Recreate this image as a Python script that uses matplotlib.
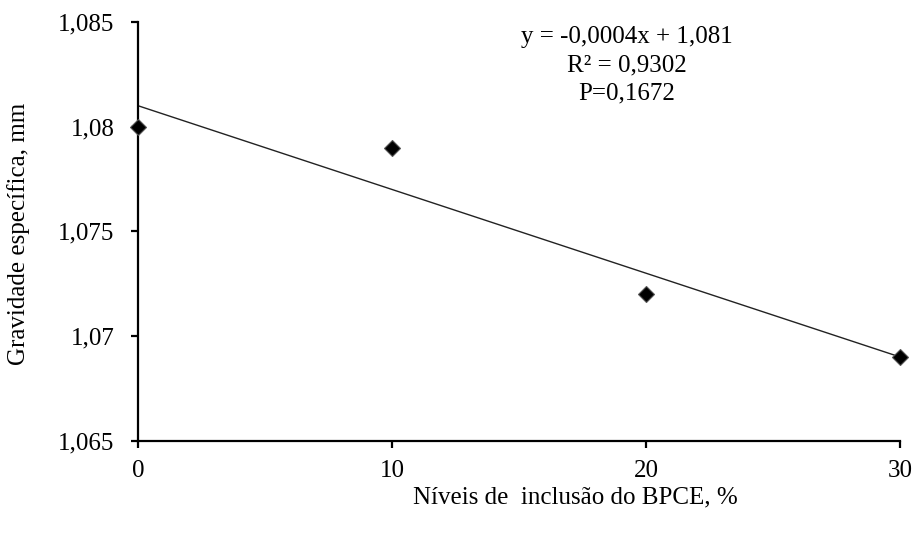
import numpy as np
import matplotlib.pyplot as plt

# Data
levels = [0, 10, 20, 30]
gravity = [1.080, 1.079, 1.072, 1.069]
slope = -0.0004
intercept = 1.081

x_ticks = [0, 10, 20, 30]
y_ticks = [1.065, 1.07, 1.075, 1.08, 1.085]
y_tick_labels = ["1,065", "1,07", "1,075", "1,08", "1,085"]

plt.rcParams["font.family"] = ["Liberation Serif", "DejaVu Serif"]

fig = plt.figure(figsize=(9.14, 5.35), dpi=100)
ax = fig.add_axes([0.151, 0.176, 0.834, 0.783])

# Trend line
xs = np.array([levels[0], levels[-1]])
ax.plot(xs, slope * xs + intercept, color="#222222", linewidth=1.0, zorder=2)

ax.plot(
    levels, gravity, linestyle="none", marker="D", markersize=8.5,
    markerfacecolor="black", markeredgecolor="#555555", markeredgewidth=0.8,
    zorder=3, clip_on=False,
)

ax.set_xlim(0, 30)
ax.set_ylim(1.065, 1.085)
ax.set_xticks(x_ticks)
ax.set_yticks(y_ticks, labels=y_tick_labels)

for side in ("top", "right"):
    ax.spines[side].set_visible(False)
for side in ("left", "bottom"):
    ax.spines[side].set_linewidth(1.6)

ax.tick_params(axis="both", direction="out", length=5, width=1.6,
               labelsize=18, colors="black", pad=9)
ax.tick_params(axis="y", pad=12)

# Equation box
fig.text(0.686, 0.952, "y = -0,0004x + 1,081\nR² = 0,9302\nP=0,1672",
         ha="center", va="top", fontsize=18, linespacing=1.38)

fig.text(0.629, 0.070, "Níveis de  inclusão do BPCE, %", ha="center",
         va="center", fontsize=18)
fig.text(0.02, 0.562, "Gravidade específica, mm", ha="center", va="center",
         rotation=90, fontsize=18)

fig.savefig("out.png", dpi=100)
